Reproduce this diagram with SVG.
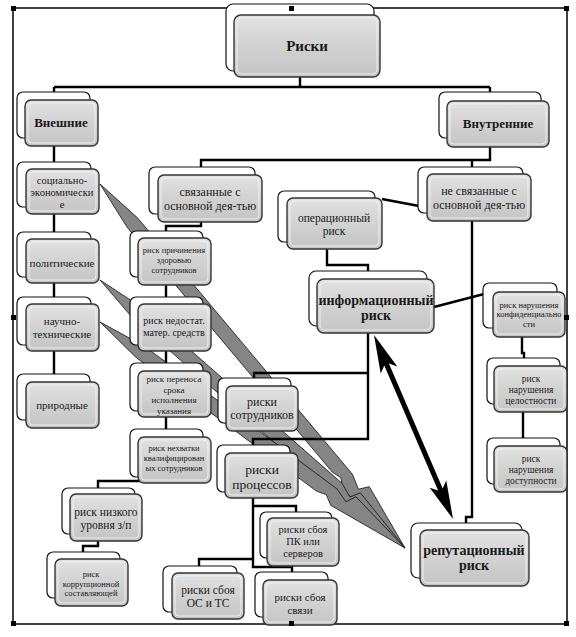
<svg xmlns="http://www.w3.org/2000/svg" width="576" height="637" viewBox="0 0 576 637">
<defs>
<linearGradient id="g" x1="0" y1="0" x2="0" y2="1">
<stop offset="0" stop-color="#e2e2e2"/>
<stop offset="0.5" stop-color="#d2d2d2"/>
<stop offset="1" stop-color="#c4c4c4"/>
</linearGradient>
</defs>
<style>
.bk{fill:#fff;stroke:#111;stroke-width:1.2}
.fr{fill:url(#g);stroke:#333;stroke-width:1.4}
.in{fill:none;stroke:#f4f4f4;stroke-width:1;opacity:.85}
.t{font-family:"Liberation Serif","Times New Roman",serif;fill:#1a1a1a;text-anchor:middle}
.b{font-weight:bold}
.c{fill:none;stroke:#000;stroke-width:2.4}
.ga{fill:#858585;stroke:#111;stroke-width:0.8;stroke-linejoin:miter}
.h{fill:#000}
</style>
<rect width="576" height="637" fill="#fff"/>
<rect x="13" y="8" width="554" height="616" fill="none" stroke="#000" stroke-width="1.5"/>

<g id="lightning">
<polygon class="ga" points="100,184 137.5,217.8 352.6,474.5 358.4,489.2 369.3,486.7 405,548 342.8,489.3 340.9,477.8 332.2,472 126.8,226.8"/>
<polygon class="ga" points="100,280 142.2,307.7 342,483.3 349.9,497 360.3,492.8 405,548 334.5,499.4 331,488.3 321.5,484 132.9,318.3"/>
<polygon class="ga" points="100,322 144.4,346.2 336.9,488.8 345.9,501.8 355.9,496.7 405,548 330.8,505.4 326.3,494.7 316.5,491.1 136,357.4"/>
</g>

<g id="connectors">
<path class="c" d="M300,77 V87 M54,87 H490 M54,87 V100 M490,87 V101"/>
<path class="c" d="M54,146 V376"/>
<path class="c" d="M490,147 V160 H201 V168 M472,160 V168"/>
<path class="c" d="M201,222 V226 H166 V232 M166,284 V481 H98 V489"/>
<path class="c" d="M98,541 V546 H83 V553"/>
<path class="c" d="M382,199 L419,206"/>
<path class="c" d="M472,221 V517 H466 V524"/>
<path class="c" d="M327,249 V265 H368 V272"/>
<path class="c" d="M368,333 V439 H253 V446 M368,373 H254 V379"/>
<path class="c" d="M434,307 L484,294"/>
<path class="c" d="M522,337 V353 H524 V359 M523,412 V439"/>
<path class="c" d="M253,498 V567 H292 V573 M253,506 H296 V513 M253,559 H199 V567"/>
<polygon fill="#000" points="374,335 397.3,366.4 388.9,363.4 442.7,488.6 446.3,480.5 453,519 429.7,487.7 438.1,490.6 384.3,365.4 380.7,373.5"/>
</g>

<g id="n-riski"><rect class="bk" x="226" y="4" width="148" height="67" rx="7"/><rect class="fr" x="234" y="15" width="146" height="62" rx="7"/><rect class="in" x="237" y="18" width="140" height="56" rx="5"/><text class="t b" x="307" y="51" font-size="15">Риски</text></g>
<g id="n-vneshnie"><rect class="bk" x="17" y="92" width="73" height="46" rx="6"/><rect class="fr" x="25" y="100" width="73" height="46" rx="6"/><rect class="in" x="28" y="103" width="67" height="40" rx="4"/><text class="t b" x="61" y="127" font-size="13">Внешние</text></g>
<g id="n-vnutrennie"><rect class="bk" x="439" y="92" width="102" height="46" rx="6"/><rect class="fr" x="447" y="101" width="102" height="46" rx="6"/><rect class="in" x="450" y="104" width="96" height="40" rx="4"/><text class="t b" x="498" y="128" font-size="13">Внутренние</text></g>

<g id="n-social"><rect class="bk" x="17" y="162" width="74" height="45" rx="6"/><rect class="fr" x="26" y="169" width="73" height="45" rx="6"/><rect class="in" x="29" y="172" width="67" height="39" rx="4"/><text class="t" font-size="10.5"><tspan x="62" y="184">социально-</tspan><tspan x="62" y="196">экономически</tspan><tspan x="62" y="208">е</tspan></text></g>
<g id="n-polit"><rect class="bk" x="17" y="232" width="74" height="45" rx="6"/><rect class="fr" x="26" y="239" width="73" height="44" rx="6"/><rect class="in" x="29" y="242" width="67" height="38" rx="4"/><text class="t" x="62" y="267" font-size="11">политические</text></g>
<g id="n-nauch"><rect class="bk" x="17" y="297" width="74" height="48" rx="6"/><rect class="fr" x="26" y="304" width="73" height="47" rx="6"/><rect class="in" x="29" y="307" width="67" height="41" rx="4"/><text class="t" font-size="11"><tspan x="62" y="325">научно-</tspan><tspan x="62" y="338">технические</tspan></text></g>
<g id="n-prirod"><rect class="bk" x="17" y="374" width="73" height="46" rx="6"/><rect class="fr" x="26" y="382" width="73" height="46" rx="6"/><rect class="in" x="29" y="385" width="67" height="40" rx="4"/><text class="t" x="62" y="409" font-size="11">природные</text></g>

<g id="n-sviaz"><rect class="bk" x="149" y="167" width="106" height="47" rx="6"/><rect class="fr" x="158" y="175" width="104" height="47" rx="6"/><rect class="in" x="161" y="178" width="98" height="41" rx="4"/><text class="t" font-size="12"><tspan x="210" y="196">связанные с</tspan><tspan x="210" y="210">основной дея-тью</tspan></text></g>
<g id="n-nesviaz"><rect class="bk" x="418" y="167" width="105" height="46" rx="6"/><rect class="fr" x="427" y="174" width="104" height="47" rx="6"/><rect class="in" x="430" y="177" width="98" height="41" rx="4"/><text class="t" font-size="12"><tspan x="479" y="195">не связанные с</tspan><tspan x="479" y="209">основной дея-тью</tspan></text></g>
<g id="n-oper"><rect class="bk" x="278" y="191" width="97" height="51" rx="6"/><rect class="fr" x="287" y="198" width="95" height="51" rx="6"/><rect class="in" x="290" y="201" width="89" height="45" rx="4"/><text class="t" font-size="11.5"><tspan x="334" y="222">операционный</tspan><tspan x="334" y="235">риск</tspan></text></g>
<g id="n-inform"><rect class="bk" x="309" y="271" width="118" height="55" rx="7"/><rect class="fr" x="317" y="279" width="117" height="54" rx="7"/><rect class="in" x="320" y="282" width="111" height="48" rx="5"/><text class="t b" font-size="14"><tspan x="376" y="304.5">информационный</tspan><tspan x="376" y="319.5">риск</tspan></text></g>
<g id="n-konf"><rect class="bk" x="483" y="283" width="74" height="45" rx="6"/><rect class="fr" x="493" y="292" width="72" height="45" rx="6"/><rect class="in" x="496" y="295" width="66" height="39" rx="4"/><text class="t" font-size="8.5"><tspan x="529" y="307.5">риск нарушения</tspan><tspan x="529" y="317">конфиденциально</tspan><tspan x="529" y="326.5">сти</tspan></text></g>
<g id="n-cel"><rect class="bk" x="487" y="358" width="73" height="46" rx="6"/><rect class="fr" x="494" y="366" width="73" height="46" rx="6"/><rect class="in" x="497" y="369" width="67" height="40" rx="4"/><text class="t" font-size="9.5"><tspan x="531" y="382">риск</tspan><tspan x="531" y="393">нарушения</tspan><tspan x="531" y="404">целостности</tspan></text></g>
<g id="n-dost"><rect class="bk" x="487" y="438" width="73" height="46" rx="6"/><rect class="fr" x="494" y="446" width="73" height="46" rx="6"/><rect class="in" x="497" y="449" width="67" height="40" rx="4"/><text class="t" font-size="9.5"><tspan x="531" y="462">риск</tspan><tspan x="531" y="473">нарушения</tspan><tspan x="531" y="484">доступности</tspan></text></g>

<g id="n-prich"><rect class="bk" x="130" y="231" width="73" height="46" rx="6"/><rect class="fr" x="138" y="238" width="73" height="47" rx="6"/><rect class="in" x="141" y="241" width="67" height="41" rx="4"/><text class="t" font-size="8.5"><tspan x="174" y="253">риск причинения</tspan><tspan x="174" y="263">здоровью</tspan><tspan x="174" y="273">сотрудников</tspan></text></g>
<g id="n-nedost"><rect class="bk" x="130" y="297" width="73" height="48" rx="6"/><rect class="fr" x="138" y="304" width="73" height="47" rx="6"/><rect class="in" x="141" y="307" width="67" height="41" rx="4"/><text class="t" font-size="10"><tspan x="174" y="324">риск недостат.</tspan><tspan x="174" y="336">матер. средств</tspan></text></g>
<g id="n-perenos"><rect class="bk" x="130" y="363" width="73" height="48" rx="6"/><rect class="fr" x="138" y="371" width="73" height="46" rx="6"/><rect class="in" x="141" y="374" width="67" height="40" rx="4"/><text class="t" font-size="9"><tspan x="174" y="382">риск переноса</tspan><tspan x="174" y="392.5">срока</tspan><tspan x="174" y="403">исполнения</tspan><tspan x="174" y="413.5">указания</tspan></text></g>
<g id="n-nehvat"><rect class="bk" x="130" y="429" width="73" height="48" rx="6"/><rect class="fr" x="138" y="437" width="73" height="46" rx="6"/><rect class="in" x="141" y="440" width="67" height="40" rx="4"/><text class="t" font-size="8.5"><tspan x="174" y="451">риск нехватки</tspan><tspan x="174" y="461">квалифицирован</tspan><tspan x="174" y="471">ых сотрудников</tspan></text></g>
<g id="n-nizk"><rect class="bk" x="62" y="488" width="73" height="46" rx="6"/><rect class="fr" x="70" y="494" width="72" height="47" rx="6"/><rect class="in" x="73" y="497" width="66" height="41" rx="4"/><text class="t" font-size="11.5"><tspan x="106" y="516">риск низкого</tspan><tspan x="106" y="529">уровня з/п</tspan></text></g>
<g id="n-korr"><rect class="bk" x="47" y="552" width="73" height="46" rx="6"/><rect class="fr" x="55" y="559" width="73" height="47" rx="6"/><rect class="in" x="58" y="562" width="67" height="41" rx="4"/><text class="t" font-size="8.5"><tspan x="91" y="577">риск</tspan><tspan x="91" y="586.5">коррупционной</tspan><tspan x="91" y="596">составляющей</tspan></text></g>

<g id="n-sotr"><rect class="bk" x="218" y="378" width="73" height="45" rx="6"/><rect class="fr" x="226" y="386" width="72" height="45" rx="6"/><rect class="in" x="229" y="389" width="66" height="39" rx="4"/><text class="t" font-size="12"><tspan x="262" y="405.5">риски</tspan><tspan x="262" y="419">сотрудников</tspan></text></g>
<g id="n-proc"><rect class="bk" x="217" y="445" width="73" height="47" rx="6"/><rect class="fr" x="225" y="453" width="73" height="45" rx="6"/><rect class="in" x="228" y="456" width="67" height="39" rx="4"/><text class="t" font-size="13.5"><tspan x="262" y="474">риски</tspan><tspan x="262" y="489">процессов</tspan></text></g>
<g id="n-pk"><rect class="bk" x="260" y="512" width="72" height="46" rx="6"/><rect class="fr" x="267" y="518" width="72" height="48" rx="6"/><rect class="in" x="270" y="521" width="66" height="42" rx="4"/><text class="t" font-size="10.5"><tspan x="303" y="533">риски сбоя</tspan><tspan x="303" y="545">ПК или</tspan><tspan x="303" y="557">серверов</tspan></text></g>
<g id="n-os"><rect class="bk" x="163" y="566" width="74" height="46" rx="6"/><rect class="fr" x="172" y="573" width="72" height="46" rx="6"/><rect class="in" x="175" y="576" width="66" height="40" rx="4"/><text class="t" font-size="11.5"><tspan x="208" y="594">риски сбоя</tspan><tspan x="208" y="607">ОС и ТС</tspan></text></g>
<g id="n-svyazi"><rect class="bk" x="255" y="572" width="73" height="45" rx="6"/><rect class="fr" x="263" y="580" width="74" height="45" rx="6"/><rect class="in" x="266" y="583" width="68" height="39" rx="4"/><text class="t" font-size="11"><tspan x="300" y="601">риски сбоя</tspan><tspan x="300" y="613.5">связи</tspan></text></g>
<g id="n-reput"><rect class="bk" x="411" y="523" width="111" height="55" rx="7"/><rect class="fr" x="420" y="530" width="109" height="56" rx="7"/><rect class="in" x="423" y="533" width="103" height="50" rx="5"/><text class="t b" font-size="14"><tspan x="474" y="555">репутационный</tspan><tspan x="474" y="570">риск</tspan></text></g>

<g id="handles">
<rect class="h" x="11" y="6" width="5" height="5"/><rect class="h" x="289" y="6" width="5" height="5"/><rect class="h" x="564" y="6" width="5" height="5"/>
<rect class="h" x="11" y="315" width="5" height="5"/><rect class="h" x="564" y="315" width="5" height="5"/>
<rect class="h" x="11" y="621" width="5" height="5"/><rect class="h" x="289" y="621" width="5" height="5"/><rect class="h" x="564" y="621" width="5" height="5"/>
</g>
</svg>
